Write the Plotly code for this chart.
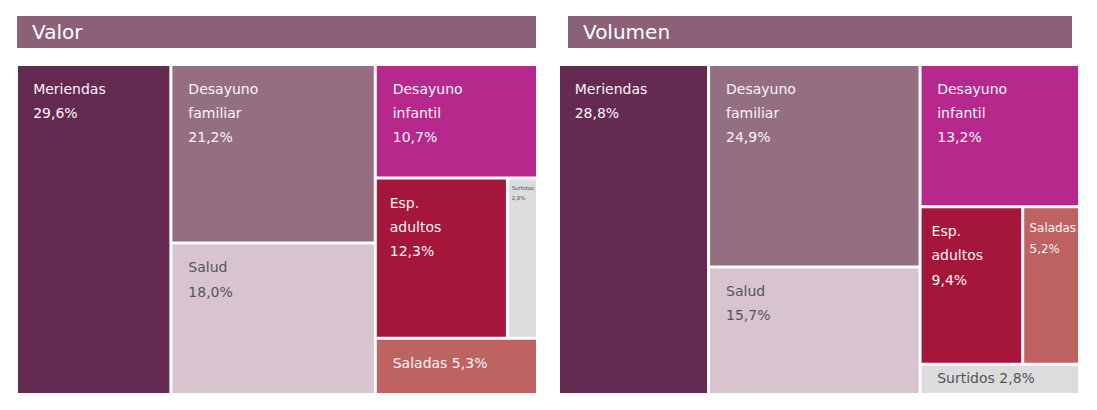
import plotly.graph_objects as go

# ---------------- data ----------------
categories = ["Meriendas", "Desayuno familiar", "Salud", "Desayuno infantil",
              "Esp. adultos", "Surtidos", "Saladas"]
valor = [29.6, 21.2, 18.0, 10.7, 12.3, 2.8, 5.3]
volumen = [28.8, 24.9, 15.7, 13.2, 9.4, 2.8, 5.2]
panel_titles = ["Valor", "Volumen"]

# nesting used for tiling (alternating columns / rows)
valor_tree = ["Meriendas", ["Desayuno familiar", "Salud"],
              ["Desayuno infantil", ["Esp. adultos", "Surtidos"], "Saladas"]]
volumen_tree = ["Meriendas", ["Desayuno familiar", "Salud"],
                ["Desayuno infantil", ["Esp. adultos", "Saladas"], "Surtidos"]]

# ---------------- style ----------------
cell_colors = {
    "Meriendas": "#652A51",
    "Desayuno familiar": "#946F82",
    "Salud": "#D7C4CE",
    "Desayuno infantil": "#B6288C",
    "Esp. adultos": "#A5163B",
    "Surtidos": "#DCDCDE",
    "Saladas": "#BE6262",
}
dark_text = {"Salud", "Surtidos"}
header_color = "#8A6177"
FONT = "DejaVu Sans, Liberation Sans, Arial, sans-serif"

OFF = 8  # page body margin of the browser
PAGE_W, PAGE_H = 1097, 410
FIG_W, FIG_H = PAGE_W - OFF, PAGE_H - OFF
GAP = 3.0
HALF = GAP / 2
# panel boxes in page pixels (left, right, top, bottom)
panels_px = [(18, 536, 66, 393), (560, 1078, 66, 393)]
headers_px = [(17, 536, 16, 48), (568, 1072, 16, 48)]

# DejaVu Sans advance widths (em/1000) for text fitting
CW = {" ": 318, "S": 635, "u": 634, "r": 411, "t": 392, "i": 278, "d": 635,
      "o": 612, "s": 521, ",": 318, "%": 950, "a": 613, "l": 278, "e": 615,
      "M": 863, "n": 634, "D": 770, "y": 592, "f": 352, "m": 974, "E": 632,
      "p": 635, ".": 318, "c": 550}


def em_width(s):
    return sum(CW.get(ch, 636) for ch in s) / 1000.0


def fmt(v):
    return f"{v:.1f}".replace(".", ",") + "%"


def node_total(node, vals):
    if isinstance(node, str):
        return vals[node]
    return sum(node_total(n, vals) for n in node)


def tile(node, vals, x0, y0, x1, y1, depth, out):
    """slice-dice: even depth splits horizontally, odd depth vertically (top first)."""
    if isinstance(node, str):
        out[node] = (x0, y0, x1, y1)
        return
    tot = node_total(node, vals)
    if depth % 2 == 0:
        cur = x0
        for ch in node:
            w = (x1 - x0) * node_total(ch, vals) / tot
            tile(ch, vals, cur, y0, cur + w, y1, depth + 1, out)
            cur += w
    else:
        cur = y1
        for ch in node:
            h = (y1 - y0) * node_total(ch, vals) / tot
            tile(ch, vals, x0, cur - h, x1, cur, depth + 1, out)
            cur -= h


fig = go.Figure()
layout_axes = {}

for p, (series, tree) in enumerate([(valor, valor_tree), (volumen, volumen_tree)]):
    vals = dict(zip(categories, series))
    l, r, t, b = panels_px[p]
    W = (r - l) + GAP
    H = (b - t) + GAP
    rects = {}
    tile(tree, vals, 0.0, 0.0, W, H, 0, rects)
    xa = "x" if p == 0 else "x2"
    ya = "y" if p == 0 else "y2"

    for cat in categories:
        x0, y0, x1, y1 = rects[cat]
        ix0, ix1, iy0, iy1 = x0 + HALF, x1 - HALF, y0 + HALF, y1 - HALF
        fig.add_trace(go.Scatter(
            x=[ix0, ix1, ix1, ix0, ix0], y=[iy0, iy0, iy1, iy1, iy0],
            mode="lines", fill="toself", fillcolor=cell_colors[cat],
            line=dict(width=0, color=cell_colors[cat]),
            xaxis=xa, yaxis=ya, hoverinfo="text",
            text=f"{cat}: {fmt(vals[cat])}", showlegend=False))

        iw, ih = ix1 - ix0, iy1 - iy0
        single = iw > 2.5 * ih
        if single:
            lines = [f"{cat} {fmt(vals[cat])}"]
        else:
            lines = cat.split() + [fmt(vals[cat])]
        padx = min(16.0, 0.1 * iw)
        maxem = max(em_width(s) for s in lines)
        fs = min(14.0, (iw - padx - 2) / maxem)
        spacing = 1.72 * fs
        top = min(1.75 * fs, ih / 2)
        tx = [ix0 + padx] * len(lines)
        ty = [iy1 - top - i * spacing for i in range(len(lines))]
        fig.add_trace(go.Scatter(
            x=tx, y=ty, mode="text", text=lines, textposition="middle right",
            textfont=dict(family=FONT, size=fs,
                          color="#555555" if cat in dark_text else "#FBF5F9"),
            xaxis=xa, yaxis=ya, hoverinfo="skip", showlegend=False))

    dom_x = [(l - OFF - HALF) / FIG_W, (r - OFF + HALF) / FIG_W]
    dom_y = [1 - (b - OFF + HALF) / FIG_H, 1 - (t - OFF - HALF) / FIG_H]
    axis_common = dict(visible=False, fixedrange=True, showgrid=False, zeroline=False)
    layout_axes["xaxis" if p == 0 else "xaxis2"] = dict(
        domain=dom_x, range=[0, W], anchor=ya, **axis_common)
    layout_axes["yaxis" if p == 0 else "yaxis2"] = dict(
        domain=dom_y, range=[0, H], anchor=xa, **axis_common)

shapes = []
annotations = []
for p, title in enumerate(panel_titles):
    hl, hr, ht, hb = headers_px[p]
    shapes.append(dict(type="rect", xref="paper", yref="paper",
                       x0=(hl - OFF) / FIG_W, x1=(hr - OFF) / FIG_W,
                       y0=1 - (hb - OFF) / FIG_H, y1=1 - (ht - OFF) / FIG_H,
                       fillcolor=header_color, line=dict(width=0), layer="below"))
    annotations.append(dict(text=title, xref="paper", yref="paper",
                            x=(hl - OFF + 13) / FIG_W,
                            y=1 - ((ht + hb) / 2 - OFF) / FIG_H,
                            xanchor="left", yanchor="middle", showarrow=False,
                            font=dict(family=FONT, size=20, color="#FFFFFF")))

fig.update_layout(
    width=FIG_W, height=FIG_H, autosize=False,
    margin=dict(l=0, r=0, t=0, b=0),
    paper_bgcolor="#FFFFFF", plot_bgcolor="#FFFFFF",
    showlegend=False, shapes=shapes, annotations=annotations,
    **layout_axes)

fig.write_html("out.html")
